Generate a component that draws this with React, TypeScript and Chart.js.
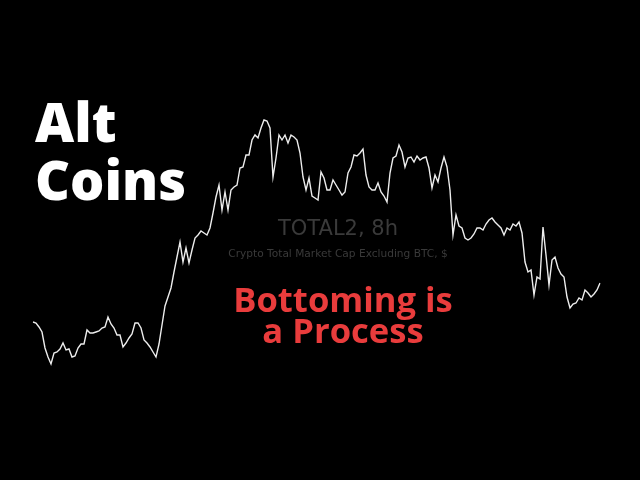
import React, { useEffect, useRef } from "react";
import { Chart, registerables } from "chart.js";

Chart.register(...registerables);

// TOTAL2 (8h bars) closes, in $B
const closes: number[] = [
  556, 554, 546, 536, 504, 486, 472, 494, 496, 502,
  514, 500, 502, 486, 488, 504, 512, 512, 540, 534,
  534, 536, 538, 544, 546, 566, 552, 544, 530, 530,
  506, 514, 524, 532, 554, 554, 544, 520, 514, 506,
  496, 486, 512, 550, 588, 606, 624, 656, 686, 716,
  676, 704, 674, 700, 724, 730, 738, 734, 730, 744,
  774, 806, 830, 780, 816, 780, 820, 826, 830, 864,
  866, 890, 890, 920, 930, 924, 944, 960, 958, 944,
  846, 884, 930, 920, 930, 914, 930, 926, 920, 894,
  846, 820, 844, 808, 804, 800, 856, 844, 820, 820,
  840, 830, 820, 810, 816, 854, 866, 890, 888, 894,
  902, 850, 826, 820, 820, 834, 816, 808, 796, 854,
  884, 888, 910, 896, 866, 884, 886, 876, 888, 880,
  884, 886, 864, 824, 850, 836, 864, 886, 866, 820,
  730, 770, 748, 744, 724, 720, 724, 732, 744, 744,
  740, 752, 760, 764, 756, 750, 744, 730, 744, 740,
  752, 748, 756, 734, 676, 656, 660, 610, 646, 642,
  746, 690, 630, 680, 686, 664, 652, 646, 606, 584,
  592, 594, 604, 600, 620, 614, 606, 612, 620, 634,
];

const bars: string[] = closes.map((_, i) => `bar ${i + 1}`);

const valueMin = 240;
const valueMax = 1200;

const titleLines = ["Alt", "Coins"];
const symbolTitle = "TOTAL2, 8h";
const symbolSubtitle = "Crypto Total Market Cap Excluding BTC, $";
const captionLines = ["Bottoming is", "a Process"];

export default function App() {
  const canvasRef = useRef<HTMLCanvasElement | null>(null);

  useEffect(() => {
    document.body.style.margin = "0";
    document.body.style.background = "#000";
    const canvas = canvasRef.current;
    if (!canvas) return;
    const chart = new Chart(canvas, {
      type: "line",
      data: {
        labels: bars,
        datasets: [
          {
            data: closes,
            borderColor: "#ededed",
            borderWidth: 1.4,
            pointRadius: 0,
            tension: 0,
            fill: false,
          },
        ],
      },
      options: {
        responsive: false,
        animation: false,
        layout: { padding: { left: 33, right: 40, top: 0, bottom: 0 } },
        scales: {
          x: { display: false, offset: false },
          y: { display: false, min: valueMin, max: valueMax },
        },
        plugins: {
          legend: { display: false },
          tooltip: { enabled: false },
        },
      },
    });
    return () => chart.destroy();
  }, []);

  return (
    <div
      style={{
        position: "fixed",
        left: 0,
        top: 0,
        width: 640,
        height: 480,
        background: "#000",
        overflow: "hidden",
      }}
    >
      <canvas
        ref={canvasRef}
        width={640}
        height={480}
        style={{ position: "absolute", left: 0, top: 0, width: 640, height: 480 }}
      />
      <div
        style={{
          position: "absolute",
          left: 35,
          top: 92,
          fontFamily: "'Open Sans', sans-serif",
          fontWeight: 800,
          fontSize: 54,
          lineHeight: "58px",
          color: "#fff",
        }}
      >
        {titleLines.map((t) => (
          <div key={t}>{t}</div>
        ))}
      </div>
      <div
        style={{
          position: "absolute",
          left: 138,
          width: 400,
          top: 214,
          textAlign: "center",
          fontFamily: "'DejaVu Sans', sans-serif",
          fontSize: 21,
          lineHeight: "28px",
          color: "#3a3a3a",
        }}
      >
        {symbolTitle}
      </div>
      <div
        style={{
          position: "absolute",
          left: 138,
          width: 400,
          top: 245,
          textAlign: "center",
          fontFamily: "'DejaVu Sans', sans-serif",
          fontSize: 10.6,
          lineHeight: "16px",
          color: "#3a3a3a",
        }}
      >
        {symbolSubtitle}
      </div>
      <div
        style={{
          position: "absolute",
          left: 143,
          width: 400,
          top: 283,
          textAlign: "center",
          fontFamily: "'Open Sans', sans-serif",
          fontWeight: 700,
          fontSize: 34.6,
          lineHeight: "31px",
          color: "#e93c3c",
        }}
      >
        {captionLines.map((t) => (
          <div key={t}>{t}</div>
        ))}
      </div>
    </div>
  );
}
